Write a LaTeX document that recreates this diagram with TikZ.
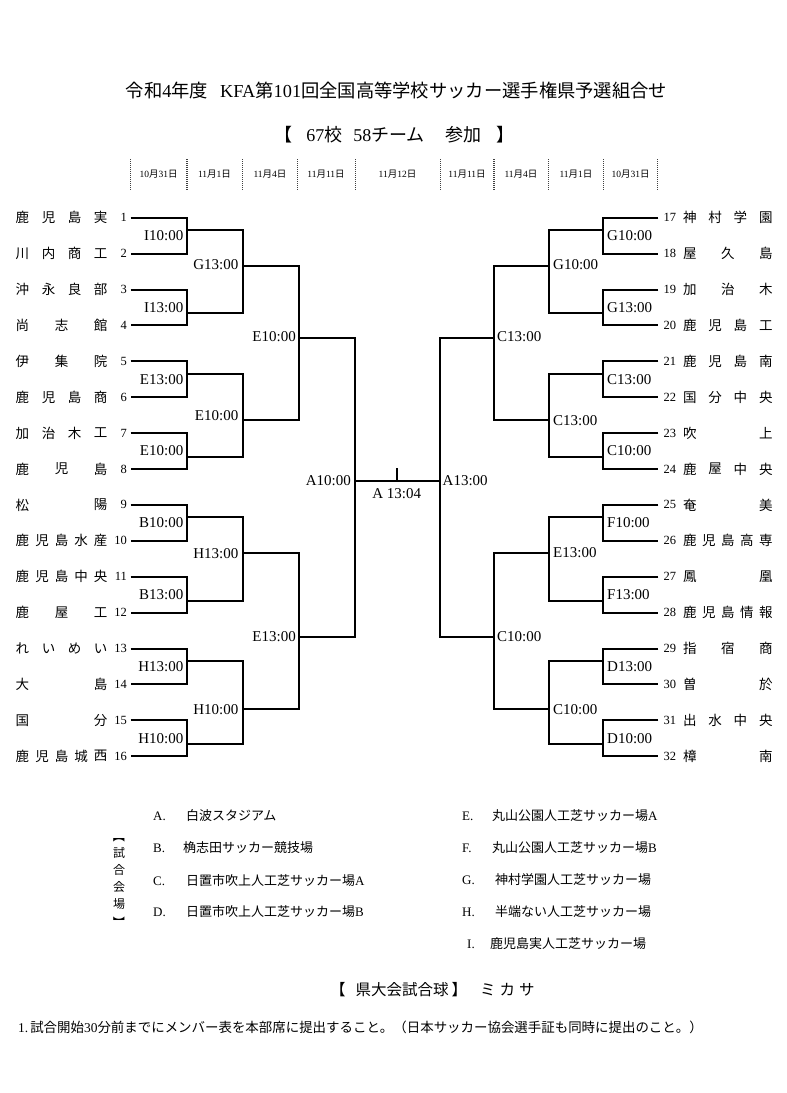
\documentclass[tikz,border=0pt]{standalone}
\usepackage{fontspec}
\setmainfont{Liberation Serif}
\newfontfamily\cjk{Noto Sans CJK JP}
\newcommand\jp[1]{{\cjk #1}}
\newcommand\fs[1]{\fontsize{#1}{#1}\selectfont}
\tikzset{
  br/.style={line width=2pt, line join=miter},
  hdr/.style={line width=1.5pt, black!75, dash pattern=on 1pt off 1pt},
  nm/.style={inner sep=0pt, font=\fs{13.5}\cjk},
  num/.style={inner sep=0pt, font=\fs{12.5}},
  lbl/.style={inner sep=0pt, font=\fs{15}},
  dt/.style={inner sep=0pt, font=\fs{9.5}},
  ven/.style={inner sep=0pt, anchor=west, font=\fs{13}},
}
\begin{document}
\begin{tikzpicture}[x=1pt,y=-1pt]
\fill[white] (0,0) rectangle (787,1093);
\useasboundingbox (0,0) rectangle (787,1093);

% titles
\node[inner sep=0pt, font=\fs{18.3}] (title) at (396.5,91) {\jp{令和}4\jp{年度}\hspace{12pt}KFA\jp{第}101\jp{回全国高等学校サッカー選手権県予選組合せ}};
\node[inner sep=0pt, font=\fs{18}] (subtitle) at (394.5,135) {\jp{【}\hspace{14pt}67\jp{校}\hspace{11pt}58\jp{チーム}\hspace{21pt}\jp{参加}\hspace{15pt}\jp{】}};

% header
\foreach \x in {130.7,186.8,242.5,297.5,355.3,440.3,493.8,548.4,603.7,657.3}
  \draw[hdr] (\x,159) -- (\x,190);
\foreach \x/\d in {158.5/10\jp{月}31\jp{日},214.5/11\jp{月}1\jp{日},270/11\jp{月}4\jp{日},326/11\jp{月}11\jp{日},397.5/11\jp{月}12\jp{日},467/11\jp{月}11\jp{日},521/11\jp{月}4\jp{日},576/11\jp{月}1\jp{日},630.5/10\jp{月}31\jp{日}}
  \node[dt] at (\x,174) {\d};

% left teams
\foreach \k/\n/\s in {1/4/{鹿,児,島,実},2/4/{川,内,商,工},3/4/{沖,永,良,部},4/3/{尚,志,館},5/3/{伊,集,院},6/4/{鹿,児,島,商},7/4/{加,治,木,工},8/3/{鹿,児,島},9/2/{松,陽},10/5/{鹿,児,島,水,産},11/5/{鹿,児,島,中,央},12/3/{鹿,屋,工},13/4/{れ,い,め,い},14/2/{大,島},15/2/{国,分},16/5/{鹿,児,島,城,西}}{
  \pgfmathsetmacro\yy{217.7+35.9*(\k-1)}
  \foreach \c [count=\ii from 0] in \s {
    \node[nm] at ({22.5+\ii*78/(\n-1)},\yy) {\c};
  }
  \node[num,anchor=east] (n\k) at (127,\yy) {\k};
}
% right teams
\foreach \k/\n/\s in {17/4/{神,村,学,園},18/3/{屋,久,島},19/3/{加,治,木},20/4/{鹿,児,島,工},21/4/{鹿,児,島,南},22/4/{国,分,中,央},23/2/{吹,上},24/4/{鹿,屋,中,央},25/2/{奄,美},26/5/{鹿,児,島,高,専},27/2/{鳳,凰},28/5/{鹿,児,島,情,報},29/3/{指,宿,商},30/2/{曽,於},31/4/{出,水,中,央},32/2/{樟,南}}{
  \pgfmathsetmacro\yy{217.7+35.9*(\k-17)}
  \foreach \c [count=\ii from 0] in \s {
    \node[nm] at ({689.8+\ii*76/(\n-1)},\yy) {\c};
  }
  \node[num,anchor=west] (n\k) at (663.3,\yy) {\k};
}

% round 1
\foreach \p/\L/\R in {1/I10:00/G10:00,2/I13:00/G13:00,3/E13:00/C13:00,4/E10:00/C10:00,5/B10:00/F10:00,6/B13:00/F13:00,7/H13:00/D13:00,8/H10:00/D10:00}{
  \pgfmathsetmacro\ya{217.7+35.9*(2*\p-2)}
  \pgfmathsetmacro\yb{\ya+35.9}
  \pgfmathsetmacro\ym{\ya+17.95}
  \draw[br] (130.5,\ya) -- (186.7,\ya) -- (186.7,\yb) -- (130.5,\yb);
  \draw[br] (658.3,\ya) -- (603.3,\ya) -- (603.3,\yb) -- (658.3,\yb);
  \node[lbl,anchor=east] at (183.5,\ym) {\L};
  \node[lbl,anchor=west] at (607,\ym) {\R};
}
% round 2
\foreach \ya/\yb/\yl/\L/\yr/\R in {230/313.4/265/G13:00/265/G10:00,373.6/457.1/416/E10:00/420.7/C13:00,517.2/600.6/554/H13:00/552.7/E13:00,660.8/744.2/709.3/H10:00/709.3/C10:00}{
  \draw[br] (186.7,\ya) -- (242.5,\ya) -- (242.5,\yb) -- (186.7,\yb);
  \draw[br] (603.3,\ya) -- (549.3,\ya) -- (549.3,\yb) -- (603.3,\yb);
  \node[lbl,anchor=east] at (238.5,\yl) {\L};
  \node[lbl,anchor=west] at (553,\yr) {\R};
}
% round 3
\foreach \ya/\yb/\yl/\L/\R in {265.7/420/337/E10:00/C13:00,552.7/709.3/637/E13:00/C10:00}{
  \draw[br] (242.5,\ya) -- (298.5,\ya) -- (298.5,\yb) -- (242.5,\yb);
  \draw[br] (549.3,\ya) -- (494.3,\ya) -- (494.3,\yb) -- (549.3,\yb);
  \node[lbl,anchor=east] at (296,\yl) {\L};
  \node[lbl,anchor=west] at (497,\yl) {\R};
}
% final
\draw[br] (298.5,337.7) -- (355,337.7) -- (355,636.7) -- (298.5,636.7);
\draw[br] (494.3,337.7) -- (440,337.7) -- (440,636.7) -- (494.3,636.7);
\coordinate (fl) at (355,481);
\coordinate (fr) at (440,481);
\coordinate (tk) at (396.7,468);
\draw[br] (fl) -- (fr);
\draw[br] (tk) -- (396.7,481);
\node[lbl,anchor=east] (al) at (351,481) {A10:00};
\node[lbl,anchor=west] (ar) at (442.5,481) {A13:00};
\node[lbl] (fin) at (396.7,493.5) {A 13:04};

% venues
\node[ven] at (153,816) {A.};
\node[ven] at (186,816) {\jp{白波スタジアム}};
\node[ven] at (153,848) {B.};
\node[ven] at (183,848) {\jp{桷志田サッカー競技場}};
\node[ven] at (153,881) {C.};
\node[ven] at (186,881) {\jp{日置市吹上人工芝サッカー場}A};
\node[ven] at (153,912) {D.};
\node[ven] at (186,912) {\jp{日置市吹上人工芝サッカー場}B};
\node[ven] at (462,816) {E.};
\node[ven] at (492,816) {\jp{丸山公園人工芝サッカー場}A};
\node[ven] at (462,848) {F.};
\node[ven] at (492,848) {\jp{丸山公園人工芝サッカー場}B};
\node[ven] at (462,880) {G.};
\node[ven] at (495,880) {\jp{神村学園人工芝サッカー場}};
\node[ven] at (462,912) {H.};
\node[ven] at (495,912) {\jp{半端ない人工芝サッカー場}};
\node[ven] at (467,944) {I.};
\node[ven] at (490,944) {\jp{鹿児島実人工芝サッカー場}};
% vertical label
\foreach \y/\c in {853/試,870/合,887/会,904/場}
  \node[inner sep=0pt, font=\fs{12}\cjk] at (119,\y) {\c};
\node[inner sep=0pt, font=\fs{12}\cjk, rotate=-90] at (119,836) {【};
\node[inner sep=0pt, font=\fs{12}\cjk, rotate=-90] at (119,922) {】};

% footer
\node[inner sep=0pt, anchor=west, font=\fs{15.5}\cjk] (ball) at (330,990) {【\hspace{10pt}県大会試合球\hspace{3pt}】\hspace{13pt}ミ\hspace{4pt}カ\hspace{4pt}サ};
\node[inner sep=0pt, anchor=west, font=\fs{13.45}] (note) at (18,1027) {1.\hspace{2pt}\jp{試合開始}30\jp{分前までにメンバー表を本部席に提出すること。（日本サッカー協会選手証も同時に提出のこと。）}};
\end{tikzpicture}
\end{document}
